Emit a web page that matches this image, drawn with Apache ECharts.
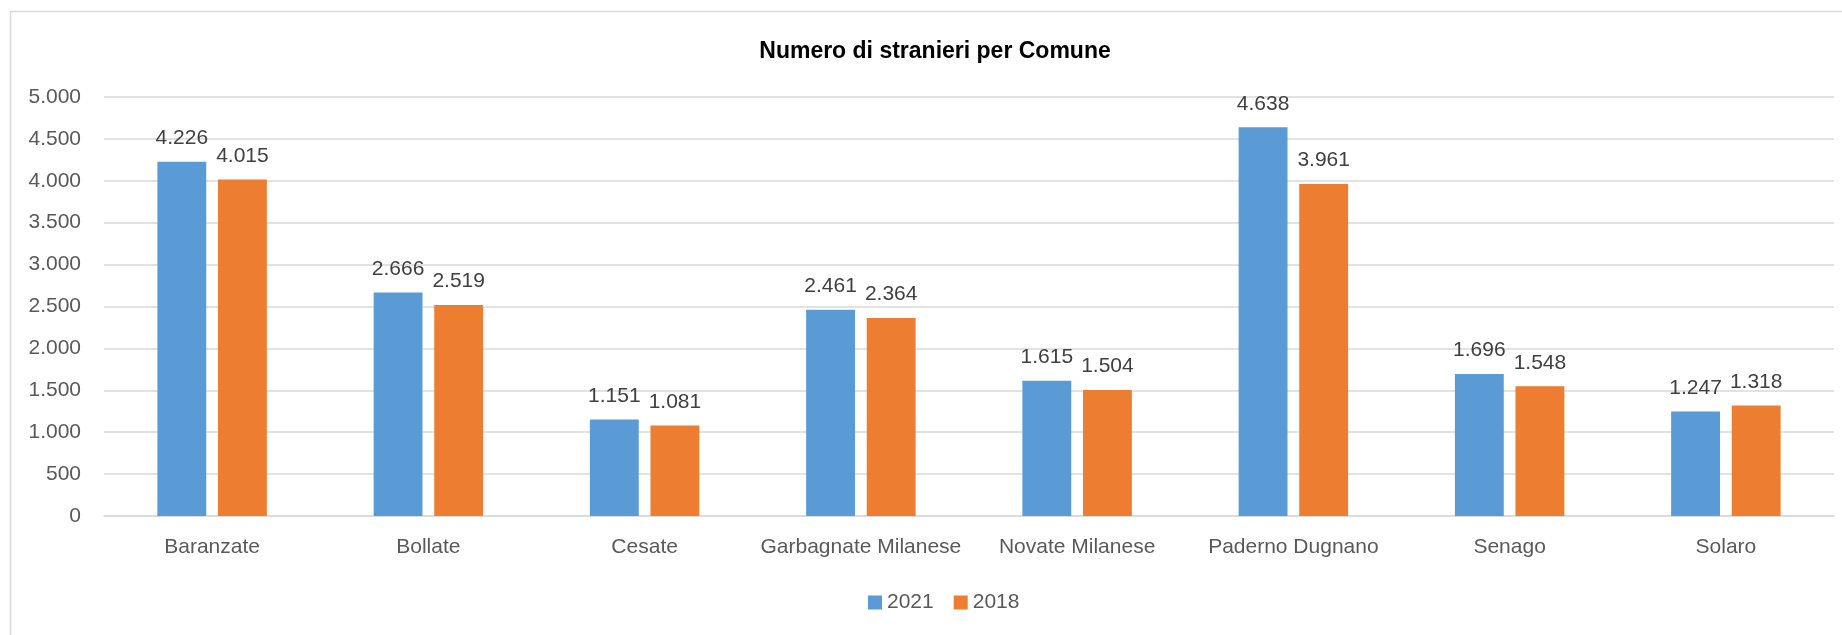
<!DOCTYPE html>
<html>
<head>
<meta charset="utf-8">
<script src="https://cdn.jsdelivr.net/npm/echarts@6/dist/echarts.min.js"></script>
<style>
  html, body { margin: 0; padding: 0; background: #fff; }
  #chart { width: 1842px; height: 635px; }
</style>
</head>
<body>
<div id="chart"></div>
<script>
const comuni = ['Baranzate', 'Bollate', 'Cesate', 'Garbagnate Milanese', 'Novate Milanese', 'Paderno Dugnano', 'Senago', 'Solaro'];
const stranieri2021 = [4226, 2666, 1151, 2461, 1615, 4638, 1696, 1247];
const stranieri2018 = [4015, 2519, 1081, 2364, 1504, 3961, 1548, 1318];
const yTicks = [0, 500, 1000, 1500, 2000, 2500, 3000, 3500, 4000, 4500, 5000];

const font = 'Liberation Sans, Arial, sans-serif';

// 4226 -> "4.226"
function fmt(v) {
    return String(v).replace(/\B(?=(\d{3})+(?!\d))/g, '.');
}

let chart = echarts.init(document.getElementById('chart'));

const barLabel = {
    show: true,
    position: 'top',
    distance: 13,
    color: '#404040',
    fontFamily: font,
    fontSize: 21,
    formatter: function(p) { return fmt(p.value); }
};

chart.setOption({
    animation: false,
    textStyle: { fontFamily: font },
    title: {
        text: 'Numero di stranieri per Comune',
        left: 930,
        textAlign: 'center',
        top: 35,
        textStyle: {
            fontFamily: font,
            fontWeight: 'bold',
            fontSize: 23,
            color: '#000'
        }
    },
    graphic: [
        {
            type: 'rect',
            shape: { x: 10.5, y: 11.5, width: 2000, height: 2000 },
            style: { fill: 'none', stroke: '#d9d9d9', lineWidth: 1.5 },
            silent: true
        }
    ],
    legend: {
        bottom: 17,
        left: 863,
        itemWidth: 14,
        itemHeight: 14,
        itemGap: 20,
        icon: 'rect',
        textStyle: { color: '#595959', fontSize: 21, fontFamily: font },
        data: ['2021', '2018']
    },
    grid: {
        left: 104,
        right: 8,
        top: 97,
        bottom: 119,
        containLabel: false
    },
    xAxis: {
        type: 'category',
        data: comuni,
        axisLine: { lineStyle: { color: '#d9d9d9', width: 1.5 } },
        axisTick: { show: false },
        axisLabel: {
            interval: 0,
            color: '#595959',
            fontSize: 21,
            fontFamily: font,
            margin: 21
        }
    },
    yAxis: {
        type: 'value',
        min: yTicks[0],
        max: yTicks[yTicks.length - 1],
        interval: 500,
        axisLine: { show: false },
        axisTick: { show: false },
        splitLine: { lineStyle: { color: '#d9d9d9', width: 1.5 } },
        axisLabel: {
            color: '#595959',
            fontSize: 21,
            fontFamily: font,
            margin: 23,
            formatter: function(v) { return fmt(v); }
        }
    },
    series: [
        {
            name: '2021',
            type: 'bar',
            data: stranieri2021,
            barWidth: '22.6%',
            barGap: '24%',
            itemStyle: { color: '#5b9bd5' },
            label: barLabel
        },
        {
            name: '2018',
            type: 'bar',
            data: stranieri2018,
            barWidth: '22.6%',
            itemStyle: { color: '#ed7d31' },
            label: barLabel
        }
    ]
});
</script>
</body>
</html>
